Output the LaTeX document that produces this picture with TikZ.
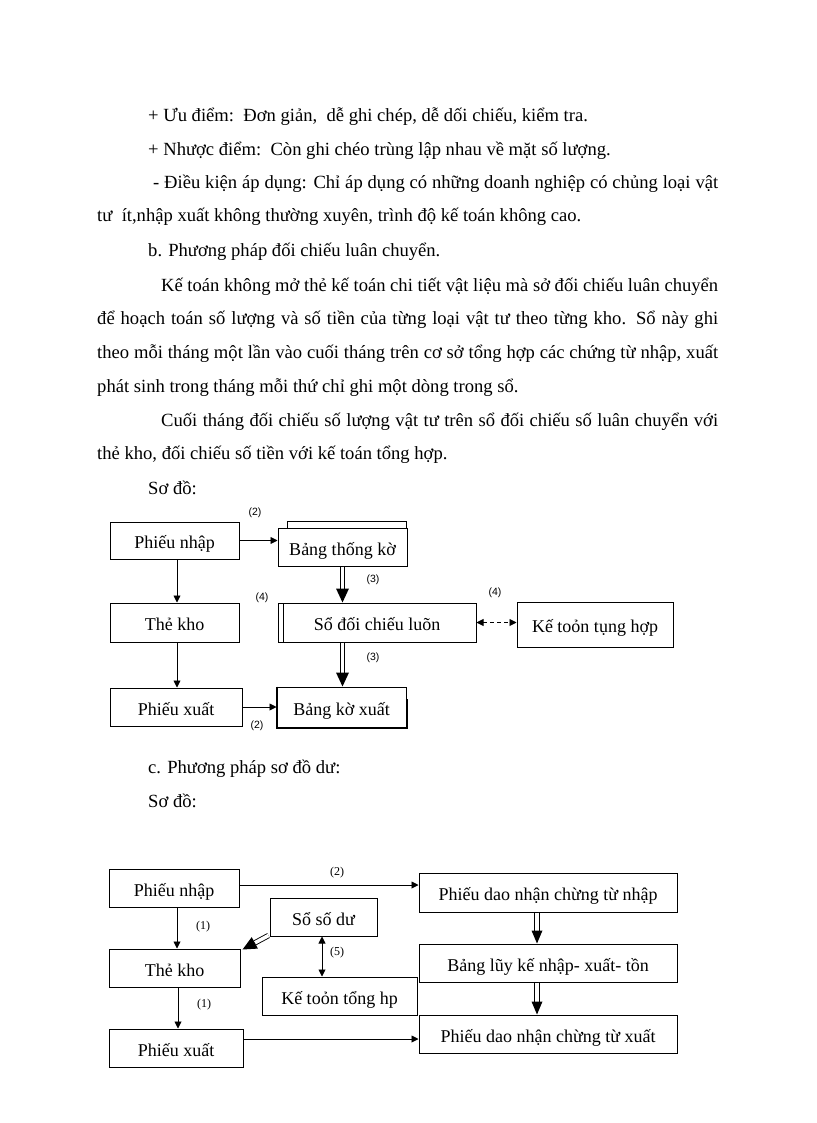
\documentclass[tikz,border=0pt]{standalone}
\usepackage{fontspec}
\setmainfont{Liberation Serif}
\newfontfamily\labfont{Liberation Sans}
\usetikzlibrary{arrows.meta,calc}
\tikzset{
  box/.style={draw, line width=1pt, inner sep=0pt, align=center, text height=20pt, text depth=4pt, font=\fontsize{18}{22}\selectfont},
  txt/.style={anchor=base west, inner sep=0pt, font=\fontsize{18.6}{22}\selectfont},
  arr/.style={line width=0.9pt, -{Triangle[length=7pt,width=7pt]}},
  biarr/.style={line width=0.9pt, {Triangle[length=7pt,width=7pt]}-{Triangle[length=7pt,width=7pt]}},
  dbl/.style={line width=0.9pt, double, double distance=3.6pt},
  lab/.style={inner sep=0pt, font=\labfont\fontsize{10.5}{12}\selectfont},
  slab/.style={inner sep=0pt, font=\fontsize{12}{14}\selectfont}
}
\newcommand\dblarr[4]{%
  \coordinate (hs) at (#1);
  \coordinate (he) at (#2);
  \coordinate (hb) at ($(he)!#3!(hs)$);
  \draw[dbl] (hs) -- (hb);
  \fill (he) -- ($(hb)!#4!90:(he)$) -- ($(hb)!#4!-90:(he)$) -- cycle;
}
\begin{document}
\begin{tikzpicture}[x=1pt,y=-1pt]
\useasboundingbox (0,0) rectangle (816,1123);
\fill[white] (0,0) rectangle (816,1123);

% ---------- text ----------
\node[txt] (l1) at (148,122) {+ Ưu điểm:\ \ Đơn giản,\ \ dễ ghi chép, dễ dối chiếu, kiểm tra.};
\node[txt] (l2) at (148,156) {+ Nhược điểm:\ \ Còn ghi chéo trùng lập nhau về mặt số lượng.};
\node[txt] (l3) at (153,189) {\makebox[565pt][s]{- Điều kiện áp dụng: Chỉ áp dụng có những doanh nghiệp có chủng loại vật}};
\node[txt] (l4) at (97,222) {tư\ \ ít,nhập xuất không thường xuyên, trình độ kế toán không cao.};
\node[txt] (l5) at (148,256) {b. Phương pháp đối chiếu luân chuyển.};
\node[txt] (l6) at (161,291) {\makebox[557pt][s]{Kế toán không mở thẻ kế toán chi tiết vật liệu mà sở đối chiếu luân chuyển}};
\node[txt] (l7) at (97,324) {\makebox[621pt][s]{để hoạch toán số lượng và số tiền của từng loại vật tư theo từng kho. Sổ này ghi}};
\node[txt] (l8) at (97,358) {\makebox[621pt][s]{theo mỗi tháng một lần vào cuối tháng trên cơ sở tổng hợp các chứng từ nhập, xuất}};
\node[txt] (l9) at (97,392) {phát sinh trong tháng mỗi thứ chỉ ghi một dòng trong sổ.};
\node[txt] (l10) at (161,426) {\makebox[557pt][s]{Cuối tháng đối chiếu số lượng vật tư trên sổ đối chiếu số luân chuyển với}};
\node[txt] (l11) at (97,459) {thẻ kho, đối chiếu số tiền với kế toán tổng hợp.};
\node[txt] (l12) at (148,494) {Sơ đồ:};
\node[txt] (l13) at (148,773) {c. Phương pháp sơ đồ dư:};
\node[txt] (l14) at (148,807) {Sơ đồ:};

% ---------- diagram 1 ----------
\node[box, minimum width=129, minimum height=37] (pn1) at (174.5,540.5) {Phiếu nhập};
\node[box, minimum width=129, minimum height=38] (bt1) at (342.5,547) {Bảng thống kờ};
\draw[line width=1pt] (287,528) -- (287,521.5) -- (406,521.5) -- (406,528);
\node[box, minimum width=198, minimum height=39] (sd1) at (377,622.5) {Sổ đối chiếu luõn};
\draw[line width=1pt] (283,603) -- (283,642);
\node[box, minimum width=156, minimum height=45] (kt1) at (595,624.5) {Kế toỏn tụng hợp};
\node[box, minimum width=129, minimum height=39] (tk1) at (174.5,622.5) {Thẻ kho};
\node[box, minimum width=132, minimum height=38] (px1) at (176,707) {Phiếu xuất};
\node[box, minimum width=129, minimum height=40] (bk1) at (341.5,707) {Bảng kờ xuất};
\draw[line width=2pt] (bk1.north west) -- (bk1.south west) -- (bk1.south east) -- ([yshift=-12pt]bk1.north east);

\draw[arr] (pn1.east) -- (pn1.east -| bt1.west);
\draw[arr] ([xshift=2.5pt]pn1.south) -- ([xshift=2.5pt]pn1.south |- tk1.north);
\draw[arr] ([xshift=2.5pt]tk1.south) -- ([xshift=2.5pt]tk1.south |- px1.north);
\draw[arr] (px1.east) -- (px1.east -| bk1.west);
\dblarr{bt1.south}{bt1.south |- sd1.north}{14pt}{6.5pt}
\dblarr{bt1.south |- sd1.south}{bt1.south |- bk1.north}{14pt}{6.5pt}
\draw[biarr, dash pattern=on 4pt off 3pt] (sd1.east) -- (sd1.east -| kt1.west);

\node[lab] (q1) at (255,513) {(2)};
\node[lab] (q2) at (373,580) {(3)};
\node[lab] (q3) at (262,598) {(4)};
\node[lab] (q4) at (495,593) {(4)};
\node[lab] (q5) at (373,658) {(3)};
\node[lab] (q6) at (257,726) {(2)};

% ---------- diagram 2 ----------
\node[box, minimum width=130, minimum height=38] (pn2) at (174,888) {Phiếu nhập};
\node[box, minimum width=107, minimum height=38] (ss2) at (323.5,917) {Sổ số dư};
\node[box, minimum width=131, minimum height=38] (tk2) at (174.5,968) {Thẻ kho};
\node[box, minimum width=155, minimum height=38] (kt2) at (339.5,996) {Kế toỏn tổng hp};
\node[box, minimum width=134, minimum height=38] (px2) at (176,1048) {Phiếu xuất};
\node[box, minimum width=258, minimum height=39] (pd2) at (548,892.5) {Phiếu dao nhận chừng từ nhập};
\node[box, minimum width=258, minimum height=38] (bl2) at (548,963) {Bảng lũy kế nhập- xuất- tồn};
\node[box, minimum width=258, minimum height=38] (pdx2) at (548,1034) {Phiếu dao nhận chừng từ xuất};

\draw[arr] ([yshift=3pt]pn2.east) -- ([yshift=3pt]pn2.east -| pd2.west);
\draw[arr] ([xshift=3pt]pn2.south) -- ([xshift=3pt]pn2.south |- tk2.north);
\draw[arr] ([xshift=3.5pt]tk2.south) -- ([xshift=3.5pt]tk2.south |- px2.north);
\draw[arr] ([yshift=9pt]px2.east) -- ([yshift=9pt]px2.east -| pdx2.west);
\draw[biarr] ([xshift=-1.5pt]ss2.south) -- ([xshift=-1.5pt]ss2.south |- kt2.north);
\dblarr{[xshift=-1pt,yshift=1pt]ss2.south west}{[xshift=2pt,yshift=-1pt]tk2.north east}{14pt}{6.5pt}
\dblarr{[xshift=-11pt]pd2.south}{[xshift=-11pt]pd2.south |- bl2.north}{13pt}{5.5pt}
\dblarr{[xshift=-11pt]bl2.south}{[xshift=-11pt]bl2.south |- pdx2.north}{13pt}{5.5pt}

\node[slab] (r1) at (337,873) {(2)};
\node[slab] (r2) at (203,927) {(1)};
\node[slab] (r3) at (337,953) {(5)};
\node[slab] (r4) at (204,1005) {(1)};
\end{tikzpicture}
\end{document}
